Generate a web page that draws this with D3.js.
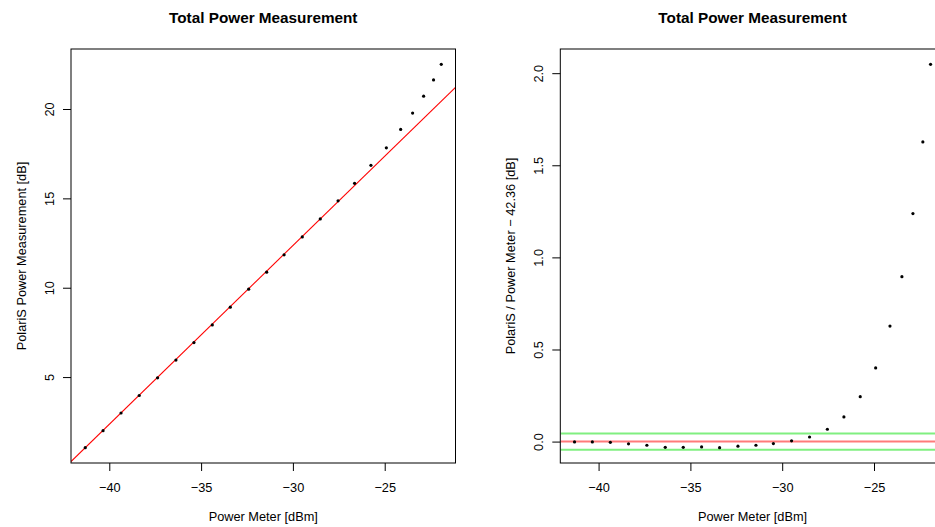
<!DOCTYPE html>
<html>
<head>
<meta charset="utf-8">
<script src="https://cdn.jsdelivr.net/npm/d3@7"></script>
<style>
html,body{margin:0;padding:0;background:#fff;overflow:hidden;}
svg{display:block;font-family:"Liberation Sans",Arial,Helvetica,sans-serif;}
</style>
</head>
<body>
<svg id="chart" width="935" height="527"></svg>
<script>
// ---- data ----
const powerMeter = [-41.31, -40.34, -39.36, -38.37, -37.37, -36.37, -35.39, -34.39, -33.41, -32.41,
  -31.43, -30.48, -29.49, -28.51, -27.54, -26.64, -25.75, -24.91, -24.13, -23.48, -22.88, -22.34, -21.92];
const polarisPower = [1.05, 2.00, 2.99, 3.97, 4.96, 5.95, 6.93, 7.92, 8.91, 9.92,
  10.87, 11.84, 12.84, 13.85, 14.86, 15.84, 16.85, 17.83, 18.86, 19.77, 20.72, 21.63, 22.50];
const residual = [-0.002, -0.002, -0.004, -0.012, -0.020, -0.031, -0.031, -0.029, -0.033, -0.025,
  -0.020, -0.011, 0.004, 0.025, 0.067, 0.134, 0.244, 0.400, 0.627, 0.895, 1.238, 1.627, 2.048];
const offset = 42.36;          // abline intercept (slope 1)
const tolerance = [0.044, -0.044];
const xTicks = [-40, -35, -30, -25];
const yTicksLeft = [5, 10, 15, 20];
const yTicksRight = [0.0, 0.5, 1.0, 1.5, 2.0];
const titleText = "Total Power Measurement";
const xLabel = "Power Meter [dBm]";
const yLabelLeft = "PolariS Power Measurement [dB]";
const yLabelRight = "PolariS / Power Meter \u2212 42.36 [dB]";

const svg = d3.select("#chart");
const fmtMinus = v => String(v).replace("-", "\u2212");

function padded(ext) { const p = (ext[1] - ext[0]) * 0.04; return [ext[0] - p, ext[1] + p]; }

function panel(opts) {
  const {left, right, top, bottom, ys, yTicks, yFmt, yLabel, id} = opts;
  const g = svg.append("g");
  const x = d3.scaleLinear().domain(padded(d3.extent(powerMeter))).range([left, right]);
  const y = d3.scaleLinear().domain(padded(d3.extent(ys))).range([bottom, top]);

  g.append("clipPath").attr("id", id).append("rect")
    .attr("x", left).attr("y", top).attr("width", right - left).attr("height", bottom - top);

  const fs = 12.75;
  // x axis
  const xa = d3.axisBottom(x).tickValues(xTicks).tickSize(8).tickPadding(13).tickFormat(fmtMinus);
  const gx = g.append("g").attr("transform", `translate(0,${bottom})`).call(xa);
  gx.select(".domain").remove();
  gx.selectAll("line").attr("stroke", "#000");
  gx.selectAll("text").attr("font-size", fs).attr("fill", "#000").attr("font-family", null)
    .attr("dy", null).attr("y", 29);

  // y axis
  const ya = d3.axisLeft(y).tickValues(yTicks).tickSize(8).tickFormat(yFmt);
  const gy = g.append("g").attr("transform", `translate(${left},0)`).call(ya);
  gy.select(".domain").remove();
  gy.selectAll("line").attr("stroke", "#000");
  gy.selectAll("text").attr("font-size", fs).attr("fill", "#000").attr("font-family", null)
    .attr("x", null).attr("dy", null)
    .attr("text-anchor", "middle")
    .attr("transform", "translate(-17,0) rotate(-90)");

  // titles
  g.append("text").attr("x", (left + right) / 2).attr("y", 23)
    .attr("text-anchor", "middle").attr("font-weight", "bold").attr("font-size", 15.3)
    .text(titleText);
  g.append("text").attr("x", (left + right) / 2).attr("y", 521)
    .attr("text-anchor", "middle").attr("font-size", fs).text(xLabel);
  g.append("text").attr("transform", `translate(${left - 45},${(top + bottom) / 2}) rotate(-90)`)
    .attr("text-anchor", "middle").attr("font-size", fs).text(yLabel);

  const plot = g.append("g").attr("clip-path", `url(#${id})`);
  return {g, plot, x, y, left, right, top, bottom};
}

// ---- left panel ----
const L = panel({left: 71, right: 455.5, top: 49, bottom: 463, ys: polarisPower,
  yTicks: yTicksLeft, yFmt: d => String(d), yLabel: yLabelLeft, id: "clipL"});
const xd = L.x.domain();
L.plot.append("line")
  .attr("x1", L.x(xd[0])).attr("y1", L.y(xd[0] + offset))
  .attr("x2", L.x(xd[1])).attr("y2", L.y(xd[1] + offset))
  .attr("stroke", "#ff0000").attr("stroke-width", 1.1);
L.plot.selectAll("circle").data(powerMeter).join("circle")
  .attr("cx", d => L.x(d)).attr("cy", (d, i) => L.y(polarisPower[i])).attr("r", 1.6).attr("fill", "#000");
L.g.append("rect").attr("x", L.left).attr("y", L.top).attr("width", L.right - L.left)
  .attr("height", L.bottom - L.top).attr("fill", "none").attr("stroke", "#000").attr("stroke-width", 1);

// ---- right panel ----
const R = panel({left: 560.3, right: 944.8, top: 49, bottom: 463, ys: residual,
  yTicks: yTicksRight, yFmt: d3.format(".1f"), yLabel: yLabelRight, id: "clipR"});
R.plot.selectAll("line.tol").data(tolerance).join("line").attr("class", "tol")
  .attr("x1", R.left).attr("x2", R.right).attr("y1", d => R.y(d)).attr("y2", d => R.y(d))
  .attr("stroke", "#80ef80").attr("stroke-width", 2);
R.plot.append("line")
  .attr("x1", R.left).attr("x2", R.right).attr("y1", R.y(0)).attr("y2", R.y(0))
  .attr("stroke", "#ff7a7a").attr("stroke-width", 2);
R.plot.selectAll("circle").data(powerMeter).join("circle")
  .attr("cx", d => R.x(d)).attr("cy", (d, i) => R.y(residual[i])).attr("r", 1.6).attr("fill", "#000");
R.g.append("rect").attr("x", R.left).attr("y", R.top).attr("width", R.right - R.left)
  .attr("height", R.bottom - R.top).attr("fill", "none").attr("stroke", "#000").attr("stroke-width", 1);
</script>
</body>
</html>
